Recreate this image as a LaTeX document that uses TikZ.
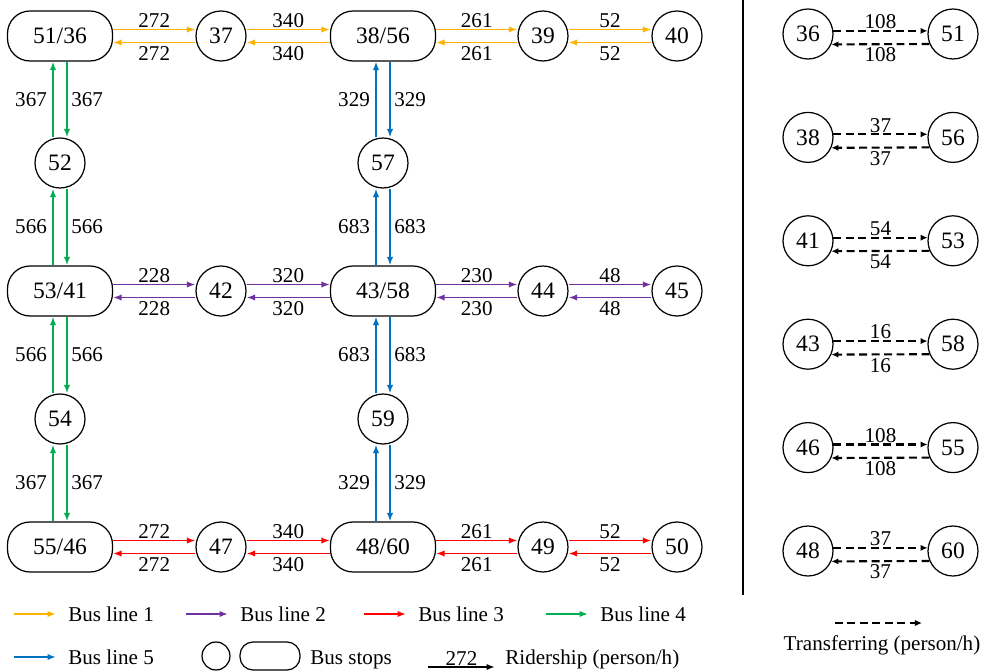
\documentclass[tikz,border=0pt]{standalone}
\usepackage{fontspec}
\setmainfont{Liberation Serif}
\usetikzlibrary{arrows.meta,calc}

\definecolor{lineA}{HTML}{FFB300}
\definecolor{lineB}{HTML}{7030A0}
\definecolor{lineC}{HTML}{FF0000}
\definecolor{lineD}{HTML}{00B050}
\definecolor{lineE}{HTML}{0070C0}

% two opposite arrows between neighbouring stops
\newcommand*{\hpair}[4]{%
	\draw[ride,#1] ($(#2.east)+(0,-6.5)$) -- node[above,lbl,inner sep=0.5pt] {#4} ($(#3.west)+(0,-6.5)$);
	\draw[ride,#1] ($(#3.west)+(0,6.5)$) -- node[below,lbl,inner sep=2pt] {#4} ($(#2.east)+(0,6.5)$);}
\newcommand*{\vpair}[4]{%
	\draw[ride,#1] ($(#3.north)+(-7,0)$) -- node[left,lbl,inner sep=3pt] {#4} ($(#2.south)+(-7,0)$);
	\draw[ride,#1] ($(#2.south)+(7,0)$) -- node[right,lbl,inner sep=2pt] {#4} ($(#3.north)+(7,0)$);}

\begin{document}
\begin{tikzpicture}[x=0.02cm,y=-0.02cm,
	busstop/.style={circle,draw,line width=0.7pt,minimum size=1cm,inner sep=0pt,font=\fontsize{13.4}{15}\selectfont},
	hubstop/.style={rectangle,draw,line width=0.7pt,rounded corners=0.45cm,minimum width=2.1cm,minimum height=1cm,inner sep=0pt,font=\fontsize{13.4}{15}\selectfont},
	ride/.style={line width=1pt,-{Latex[length=4.8pt,width=3.6pt]}},
	transfer/.style={line width=1.2pt,dash pattern=on 4.5pt off 2.6pt,-{Latex[length=4pt,width=3.6pt]}},
	lbl/.style={text=black,font=\fontsize{12}{14}\selectfont},
	legtext/.style={anchor=west,inner sep=0pt,text height=8.1pt,text depth=0pt,font=\fontsize{12}{14}\selectfont}]

	\useasboundingbox (0,0) rectangle (991,672);

	% stops
	\node[hubstop] (n51) at (60,36) {51/36};
	\node[busstop] (n37) at (221,36) {37};
	\node[hubstop] (n38) at (383,36) {38/56};
	\node[busstop] (n39) at (543,36) {39};
	\node[busstop] (n40) at (677,36) {40};

	\node[busstop] (n52) at (60,163) {52};
	\node[busstop] (n57) at (383,163) {57};

	\node[hubstop] (n53) at (60,291) {53/41};
	\node[busstop] (n42) at (221,291) {42};
	\node[hubstop] (n43) at (383,291) {43/58};
	\node[busstop] (n44) at (543,291) {44};
	\node[busstop] (n45) at (677,291) {45};

	\node[busstop] (n54) at (60,419) {54};
	\node[busstop] (n59) at (383,419) {59};

	\node[hubstop] (n55) at (60,547) {55/46};
	\node[busstop] (n47) at (221,547) {47};
	\node[hubstop] (n48) at (383,547) {48/60};
	\node[busstop] (n49) at (543,547) {49};
	\node[busstop] (n50) at (677,547) {50};

	% bus line 1
	\hpair{lineA}{n51}{n37}{272}
	\hpair{lineA}{n37}{n38}{340}
	\hpair{lineA}{n38}{n39}{261}
	\hpair{lineA}{n39}{n40}{52}

	% bus line 2
	\hpair{lineB}{n53}{n42}{228}
	\hpair{lineB}{n42}{n43}{320}
	\hpair{lineB}{n43}{n44}{230}
	\hpair{lineB}{n44}{n45}{48}

	% bus line 3
	\hpair{lineC}{n55}{n47}{272}
	\hpair{lineC}{n47}{n48}{340}
	\hpair{lineC}{n48}{n49}{261}
	\hpair{lineC}{n49}{n50}{52}

	% bus line 4
	\vpair{lineD}{n51}{n52}{367}
	\vpair{lineD}{n52}{n53}{566}
	\vpair{lineD}{n53}{n54}{566}
	\vpair{lineD}{n54}{n55}{367}

	% bus line 5
	\vpair{lineE}{n38}{n57}{329}
	\vpair{lineE}{n57}{n43}{683}
	\vpair{lineE}{n43}{n59}{683}
	\vpair{lineE}{n59}{n48}{329}

	\draw[line width=1.1pt] (743,0) -- (743,595);

	% transfers
	\foreach \a/\b/\v [count=\i from 0] in {36/51/108,38/56/37,41/53/54,43/58/16,46/55/108,48/60/37}{
		\node[busstop] (t\a) at (808,{34+103.4*\i}) {\a};
		\node[busstop] (u\b) at (953,{34+103.4*\i}) {\b};
		\draw[transfer] (t\a.7) -- node[above,lbl,inner sep=0.5pt] {\v} (u\b.173);
		\draw[transfer] (u\b.203.6) -- node[below,lbl,inner sep=1.5pt] {\v} (t\a.336.4);
	}

	% legend
	\node[legtext] (lg1) at (68,614) {Bus line 1};
	\node[legtext] (lg2) at (240,614) {Bus line 2};
	\node[legtext] (lg3) at (418,614) {Bus line 3};
	\node[legtext] (lg4) at (600,614) {Bus line 4};
	\node[legtext] (lg5) at (68,657) {Bus line 5};
	\foreach \k/\c in {1/lineA,2/lineB,3/lineC,4/lineD,5/lineE}
		\draw[ride,\c] ($(lg\k.west)+(-54,0)$) -- ($(lg\k.west)+(-12,0)$);

	\node[busstop,minimum size=0.56cm] (lgc) at (216,656) {};
	\node[hubstop,minimum width=1.2cm,minimum height=0.56cm,rounded corners=0.26cm] (lgr) at (270,656) {};
	\node[legtext] (lg6) at (310,657) {Bus stops};
	\node[legtext] (lg7) at (505,657) {Ridership (person/h)};
	\draw[ride,black] ($(lg7.west)+(-77,10)$) -- node[above,lbl,inner sep=0.5pt] {272} ($(lg7.west)+(-10,10)$);

	\coordinate (tr1) at (835,623);
	\coordinate (tr2) at (922,623);
	\draw[transfer] (tr1) -- (tr2);
	\node[lbl] (lg8) at (882,645) {Transferring (person/h)};

\end{tikzpicture}
\end{document}
